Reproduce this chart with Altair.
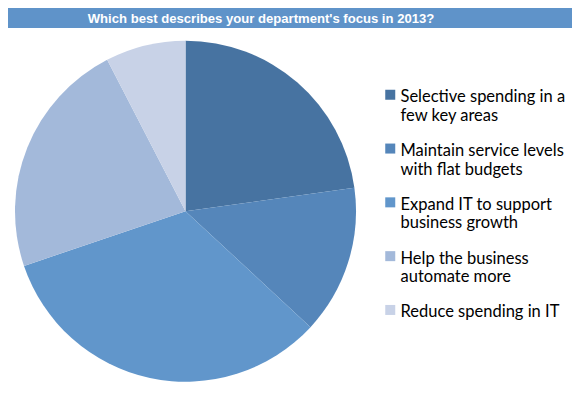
import altair as alt
import pandas as pd

title_text = "Which best describes your department's focus in 2013?"
categories = [
    "Selective spending in a few key areas",
    "Maintain service levels with flat budgets",
    "Expand IT to support business growth",
    "Help the business automate more",
    "Reduce spending in IT",
]
label_lines = [
    ["Selective spending in a", "few key areas"],
    ["Maintain service levels", "with flat budgets"],
    ["Expand IT to support", "business growth"],
    ["Help the business", "automate more"],
    ["Reduce spending in IT"],
]
shares = [22.8, 14.1, 32.9, 22.6, 7.6]
colors = ["#4773A1", "#5586BA", "#6196CB", "#A3B9DA", "#C8D2E7"]

df = pd.DataFrame({"category": categories, "share": shares, "order": list(range(len(categories)))})

def js_arr(lines):
    return "[" + ",".join("'" + l.replace("'", "\\'") + "'" for l in lines) + "]"

label_expr = ""
for c, lines in zip(categories, label_lines):
    label_expr += f"datum.label == '{c}' ? {js_arr(lines)} : "
label_expr += "datum.label"

W, H = 564, 379

pie = alt.Chart(df).mark_arc(radius=170.5, stroke=None).encode(
    theta=alt.Theta("share:Q", stack=True),
    order=alt.Order("order:Q"),
    color=alt.Color(
        "category:N",
        sort=categories,
        scale=alt.Scale(domain=categories, range=colors),
        legend=alt.Legend(
            title=None,
            orient="none",
            legendX=374,
            legendY=73,
            symbolType="M-1,0.1H1V2.1H-1Z",
            symbolSize=100,
            symbolStrokeWidth=0,
            labelFont="Lato",
            labelFontSize=16.5,
            labelColor="#000000",
            labelExpr=label_expr,
            labelLimit=300,
            labelBaseline="top",
            labelOffset=2,
            rowPadding=9.8,
        ),
    ),
    x=alt.value(177.5),
    y=alt.value(203.2),
)

bar = alt.Chart(alt.Data(values=[{"t": title_text}])).mark_rect(color="#5F93C9").encode(
    x=alt.value(0), x2=alt.value(W), y=alt.value(0), y2=alt.value(20)
)
title = alt.Chart(alt.Data(values=[{"t": title_text}])).mark_text(
    font="Liberation Sans", fontSize=13.1, fontWeight="bold", color="white", baseline="middle", align="center"
).encode(text="t:N", x=alt.value(253), y=alt.value(10.5))

chart = alt.layer(bar, title, pie).properties(
    width=W, height=H, autosize=alt.AutoSizeParams(type="none"), padding=0
).configure_view(strokeWidth=0)

chart.save("out.html", embed_options={"renderer": "svg", "actions": False})
